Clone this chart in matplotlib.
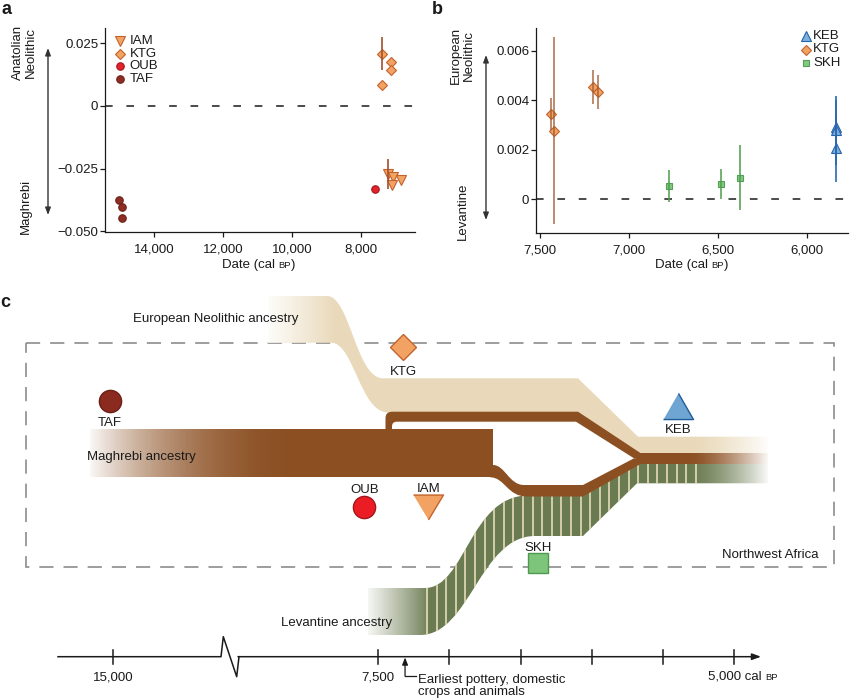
import numpy as np
import matplotlib.pyplot as plt
from matplotlib.path import Path
from matplotlib.patches import PathPatch, Rectangle
from matplotlib.offsetbox import TextArea, HPacker, AnnotationBbox

plt.rcParams['font.family'] = ['Liberation Sans', 'DejaVu Sans']
plt.rcParams['font.size'] = 9.5
INK = '#1a1a1a'

# ---- painel a: Anatolian Neolithic x Maghrebi ----
a_iam_date = [7217, 7072, 7101, 6832]
a_iam_val = [-0.0273, -0.0283, -0.0316, -0.0296]
a_ktg_date = [7374, 7113, 7130, 7391]
a_ktg_val = [0.0208, 0.0174, 0.0142, 0.0083]
a_oub_date = [7586]
a_oub_val = [-0.0329]
a_taf_date = [15023, 14945, 14936]
a_taf_val = [-0.0375, -0.0401, -0.0445]
a_err_date = [7374, 7217]          # so estas barras aparecem
a_err_lo = [0.0142, -0.0329]
a_err_hi = [0.0274, -0.0211]
a_xticks = [14000, 12000, 10000, 8000]
a_yticks = [0.025, 0, -0.025, -0.050]
a_ylabels = ['0.025', '0', '\u22120.025', '\u22120.050']

# ---- painel b: European Neolithic x Levantine ----
b_keb_date = [5837, 5837, 5837]
b_keb_val = [0.00294, 0.00281, 0.00209]
b_keb_lo = [0.0016, 0.0014, 0.00071]
b_keb_hi = [0.00416, 0.0040, 0.0034]
b_ktg_date = [7440, 7421, 7200, 7175]
b_ktg_val = [0.00344, 0.00278, 0.00456, 0.00436]
b_ktg_lo = [0.0028, -0.0010, 0.00386, 0.00366]
b_ktg_hi = [0.0041, 0.00656, 0.00524, 0.00502]
b_skh_date = [6776, 6484, 6373]
b_skh_val = [0.00055, 0.00061, 0.00087]
b_skh_lo = [-0.0001, 0.0, -0.00043]
b_skh_hi = [0.00119, 0.00121, 0.00219]
b_xticks = [7500, 7000, 6500, 6000]
b_yticks = [0, 0.002, 0.004, 0.006]
b_ylabels = ['0', '0.002', '0.004', '0.006']

# ---- painel c: esquema ----
c_names = ['TAF', 'KTG', 'OUB', 'IAM', 'SKH', 'KEB']
c_dates = [15090, 7324, 7598, 7149, 6376, 5392]
c_rows = [401, 347.3, 506.7, 506.5, 562.7, 406.3]
c_label_rows = [426, 375, 492.7, 492, 550.7, 432.7]
tl_years = [15000, 7500, 7000, 6500, 6000, 5500, 5000]
tl_labelled = [15000, 7500]
pottery_year = 7312

# faixas (coordenadas do esquema, px)
EURO_BAND = [('M', (268, 296)), ('L', (327, 296)),
             ('C', (350, 296), (356, 378.3), (383, 378.3)),
             ('L', (578, 378.3)), ('L', (638, 436.7)), ('L', (768, 436.7)),
             ('L', (768, 453.5)), ('L', (636, 453.5)), ('L', (578, 412.5)),
             ('L', (388, 412.5)), ('C', (360, 412.5), (354, 342.7), (331, 342.7)),
             ('L', (268, 342.7))]
UP_BRANCH = [('M', (385.5, 431)), ('L', (385.5, 419)),
             ('C', (385.5, 413.5), (387.5, 411.7), (393, 411.7)),
             ('L', (578, 411.7)), ('L', (640, 452.7)), ('L', (640, 458.3)),
             ('L', (634, 458.3)), ('L', (576, 421.7)), ('L', (397, 421.7)),
             ('C', (393.5, 421.7), (392, 423.5), (392, 426.5)), ('L', (392, 431))]
LOW_BRANCH = [('M', (490, 465)), ('L', (493, 465)),
              ('C', (505, 465), (509, 485), (524, 485)),
              ('L', (583, 485)), ('L', (634, 458.3)), ('L', (640, 458.3)),
              ('L', (640, 464.3)), ('L', (583, 496.5)), ('L', (527, 496.5)),
              ('C', (507, 496.5), (505, 477.3), (490, 477.3))]
MERGED = [('M', (636, 452.7)), ('L', (768, 452.7)), ('L', (768, 464.3)), ('L', (636, 464.3))]
MAIN_BAR = [('M', (90, 429.3)), ('L', (492.7, 429.3)), ('L', (492.7, 477.3)), ('L', (90, 477.3))]
GREEN_BAND = [('M', (368, 588)), ('L', (425, 588)),
              ('C', (465, 588), (470, 495.5), (528, 495.5)),
              ('L', (583, 495.5)), ('L', (637, 463)), ('L', (768, 463)),
              ('L', (768, 483.3)), ('L', (637, 483.3)), ('L', (583, 536)),
              ('L', (535, 536)), ('C', (480, 536), (470, 635), (420, 635)),
              ('L', (368, 635))]

TAN = '#E9D9BA'
BROWN = '#8B4F22'
GREEN = '#6B7B51'
STRIPE = '#EFE4C2'

def tl_x(yr):
    # eixo com quebra: 15.000 fica antes da quebra
    if yr > 10000:
        return 113.3 - (yr - 15000) * 0.035
    return 378.3 + (7500 - yr) * 0.1423

def build_path(segs):
    verts, codes = [], []
    for s in segs:
        if s[0] == 'M':
            verts.append(s[1]); codes.append(Path.MOVETO)
        elif s[0] == 'L':
            verts.append(s[1]); codes.append(Path.LINETO)
        else:
            verts += [s[1], s[2], s[3]]; codes += [Path.CURVE4] * 3
    verts.append(verts[0]); codes.append(Path.CLOSEPOLY)
    return Path(verts, codes)

def fade(ax, x0, x1, y0, y1, rising, power=2.0, clip=None):
    t = np.linspace(0, 1, 256)
    a = t ** power if rising else (1 - t) ** power
    img = np.ones((1, 256, 4))
    img[..., 3] = a
    im = ax.imshow(img, extent=(x0, x1, y1, y0), aspect='auto',
                   interpolation='bilinear', zorder=4)
    if clip is not None:
        im.set_clip_path(clip)

def smallcaps(ax, x, y, parts_txt, align=(0.5, 0.5), size=9.5):
    parts = [TextArea(s, textprops=dict(size=size * (0.72 if small else 1), color=INK))
             for s, small in parts_txt]
    box = HPacker(children=parts, align='baseline', pad=0, sep=0)
    ax.add_artist(AnnotationBbox(box, (x, y), xycoords='data', frameon=False,
                                 box_alignment=align, pad=0))

sty = {
    'IAM': dict(marker='v', mfc='#F2A363', mec='#C4622C'),
    'KTG': dict(marker='D', mfc='#F2A363', mec='#C4622C'),
    'OUB': dict(marker='o', mfc='#E3222B', mec='#A01820'),
    'TAF': dict(marker='o', mfc='#8E2D22', mec='#6E2018'),
    'KEB': dict(marker='^', mfc='#7DB0DC', mec='#2564A8'),
    'SKH': dict(marker='s', mfc='#85C884', mec='#52A052'),
}
size_ab = {'IAM': 6.8, 'KTG': 5.0, 'OUB': 5.4, 'TAF': 5.4, 'KEB': 6.5, 'SKH': 4.6}

fig = plt.figure(figsize=(8.5, 6.99), dpi=100)

def style_axes(ax):
    for s in ['top', 'right']:
        ax.spines[s].set_visible(False)
    for s in ['left', 'bottom']:
        ax.spines[s].set_linewidth(0.9)
        ax.spines[s].set_color(INK)
    ax.tick_params(axis='both', length=3.3, width=0.9, colors=INK, labelsize=9.5)
    ax.tick_params(axis='x', pad=5)
    ax.tick_params(axis='y', pad=1.5)

# painel a
ax_a = fig.add_axes([105 / 850, 1 - 232 / 699, 310 / 850, 204 / 699])
style_axes(ax_a)
ax_a.axhline(0, color=INK, lw=1.1, ls=(0, (5, 9)), zorder=1)
ax_a.vlines(a_err_date, a_err_lo, a_err_hi, color='#A0522D', lw=1.2, zorder=3)
for g, d, v in [('IAM', a_iam_date, a_iam_val), ('KTG', a_ktg_date, a_ktg_val),
                ('OUB', a_oub_date, a_oub_val), ('TAF', a_taf_date, a_taf_val)]:
    ax_a.plot(d, v, ls='none', ms=size_ab[g], mew=0.8, zorder=2, **sty[g])
ax_a.set_xlim(15430, 6430)
ax_a.set_ylim(-0.0502, 0.031)
ax_a.set_xticks(a_xticks, [f'{t:,}' for t in a_xticks])
ax_a.set_yticks(a_yticks, a_ylabels)

# painel b
ax_b = fig.add_axes([536 / 850, 1 - 233 / 699, 312 / 850, 205 / 699])
style_axes(ax_b)
ax_b.axhline(0, color=INK, lw=1.1, ls=(0, (5, 9)), zorder=1)
ax_b.vlines(b_ktg_date, b_ktg_lo, b_ktg_hi, color='#A05A30', lw=1.4, alpha=0.7, zorder=3)
ax_b.vlines(b_skh_date, b_skh_lo, b_skh_hi, color='#4E9E4E', lw=1.4, alpha=0.8, zorder=3)
ax_b.vlines(b_keb_date, b_keb_lo, b_keb_hi, color='#2B6AB0', lw=1.2, zorder=3)
for g, d, v in [('KEB', b_keb_date, b_keb_val), ('KTG', b_ktg_date, b_ktg_val),
                ('SKH', b_skh_date, b_skh_val)]:
    ax_b.plot(d, v, ls='none', ms=size_ab[g], mew=0.8, zorder=2, **sty[g])
ax_b.set_xlim(7522, 5768)
ax_b.set_ylim(-0.00136, 0.00693)
ax_b.set_xticks(b_xticks, [f'{t:,}' for t in b_xticks])
ax_b.set_yticks(b_yticks, b_ylabels)

# camada em pixels da figura: legendas, rotulos e painel c
ax = fig.add_axes([0, 0, 1, 1])
ax.axis('off')

for i, g in enumerate(['IAM', 'KTG', 'OUB', 'TAF']):
    ax.plot(120, 41 + 12.67 * i, ls='none', ms=size_ab[g], mew=0.8, **sty[g])
    ax.text(129.5, 41 + 12.67 * i, g, va='center', ha='left', color=INK)
for i, g in enumerate(['KEB', 'KTG', 'SKH']):
    ax.plot(806.5, 36 + 13.5 * i, ls='none', ms=size_ab[g], mew=0.8, **sty[g])
    ax.text(813, 36 + 13.5 * i, g, va='center', ha='left', color=INK)

ax.text(24.5, 52.5, 'Anatolian\nNeolithic', rotation=90, ha='center', va='center',
        linespacing=1.05, color=INK)
ax.text(25.5, 206, 'Maghrebi', rotation=90, ha='center', va='center', color=INK)
ax.text(462.5, 55.5, 'European\nNeolithic', rotation=90, ha='center', va='center',
        linespacing=1.05, color=INK)
ax.text(463, 211.5, 'Levantine', rotation=90, ha='center', va='center', color=INK)
arrow_kw = dict(arrowstyle='<|-|>,head_length=0.45,head_width=0.17', lw=1.0,
                color='#333333', shrinkA=0, shrinkB=0)
ax.annotate('', xy=(48, 48), xytext=(48, 215), arrowprops=arrow_kw)
ax.annotate('', xy=(486, 55), xytext=(486, 220), arrowprops=arrow_kw)
date_parts = [('Date (cal ', False), ('BP', True), (')', False)]
smallcaps(ax, 258.5, 265, date_parts)
smallcaps(ax, 691.5, 265, date_parts)

for lab, x, y in [('a', 1, 13.5), ('b', 432, 13.5), ('c', 0, 307)]:
    ax.text(x, y, lab, fontsize=13, fontweight='bold', color=INK, va='baseline')

# caixa tracejada: Northwest Africa
ax.add_patch(Rectangle((25.7, 343.3), 834.3 - 25.7, 566.7 - 343.3, fill=False,
                       ec='#8c8c8c', lw=1.2, ls=(0, (8.5, 6)), zorder=1))

tan_p = PathPatch(build_path(EURO_BAND), fc=TAN, ec='none', zorder=2)
ax.add_patch(tan_p)
green_p = PathPatch(build_path(GREEN_BAND), fc=GREEN, ec='none', zorder=3)
ax.add_patch(green_p)
stripes = ax.vlines(np.arange(427, 696, 9.6), 440, 640, color=STRIPE, lw=1.1, zorder=3.1)
stripes.set_clip_path(green_p)
bar_p = PathPatch(build_path(MAIN_BAR), fc=BROWN, ec='none', zorder=3.2)
ax.add_patch(bar_p)
for segs in [UP_BRANCH, LOW_BRANCH, MERGED]:
    ax.add_patch(PathPatch(build_path(segs), fc=BROWN, ec='none', zorder=3.2))

fade(ax, 86, 310, 428, 479, rising=False, power=2.2, clip=bar_p)
fade(ax, 264, 336, 294, 345, rising=False, power=1.0, clip=tan_p)
fade(ax, 364, 430, 586, 637, rising=False, power=0.9, clip=green_p)
fade(ax, 688, 770, 435, 486, rising=True, power=1.5)

c_sty = {
    'TAF': dict(marker='o', ms=16, mfc='#8B2A1F', mec='#6B1F15'),
    'KTG': dict(marker='D', ms=13.7, mfc='#F2A363', mec='#C4622C'),
    'OUB': dict(marker='o', ms=16, mfc='#EC1C24', mec='#A01820'),
    'IAM': dict(marker=[(-1, 0.83), (1, 0.83), (0, -0.83)], ms=21.6,
                mfc='#F2A363', mec='#C4622C'),
    'SKH': dict(marker='s', ms=14, mfc='#7DC57B', mec='#4E9A4E'),
    'KEB': dict(marker=[(-1, -0.87), (1, -0.87), (0, 0.87)], ms=21.6,
                mfc='#6FA5D2', mec='#1F5B9A'),
}
for name, d, r, lr in zip(c_names, c_dates, c_rows, c_label_rows):
    ax.plot(tl_x(d), r, ls='none', mew=1.0, zorder=5, **c_sty[name])
    ax.text(tl_x(d), lr, name, ha='center', va='baseline', color=INK, zorder=6)

ax.text(133.3, 322.3, 'European Neolithic ancestry', ha='left', va='baseline', color=INK, zorder=6)
ax.text(86.7, 460, 'Maghrebi ancestry', ha='left', va='baseline', color=INK, zorder=6)
ax.text(391.7, 626, 'Levantine ancestry', ha='right', va='baseline', color=INK, zorder=6)
ax.text(819, 558.3, 'Northwest Africa', ha='right', va='baseline', color=INK, zorder=6)

# linha do tempo
ty = 656.7
ax.plot([58, 221, 223.3, 236.7, 239], [ty, ty, ty - 20, ty + 20, ty], color=INK, lw=1.1)
ax.annotate('', xy=(761, ty), xytext=(238, ty),
            arrowprops=dict(arrowstyle='-|>,head_length=0.55,head_width=0.2', lw=1.1,
                            color=INK, shrinkA=0, shrinkB=0))
for yr in tl_years:
    ax.plot([tl_x(yr)] * 2, [ty - 7, ty + 7], color=INK, lw=1.1)
for yr in tl_labelled:
    ax.text(tl_x(yr), 680.7, f'{yr:,}', ha='center', va='baseline', color=INK)
smallcaps(ax, tl_x(5000) - 26, 676.5, [('5,000 cal ', False), ('BP', True)], align=(0, 0.5))
px = tl_x(pottery_year)
ax.annotate('', xy=(px, ty + 0.8), xytext=(px, 676),
            arrowprops=dict(arrowstyle='-|>,head_length=0.45,head_width=0.18', lw=0.9,
                            color=INK, shrinkA=0, shrinkB=0))
ax.plot([px, px + 11], [676, 676], color=INK, lw=0.9)
ax.text(px + 13, 695, 'Earliest pottery, domestic\ncrops and animals', ha='left',
        va='baseline', linespacing=1.0, color=INK)

ax.set_xlim(0, 850)
ax.set_ylim(699, 0)

fig.savefig('out.png', dpi=100)
